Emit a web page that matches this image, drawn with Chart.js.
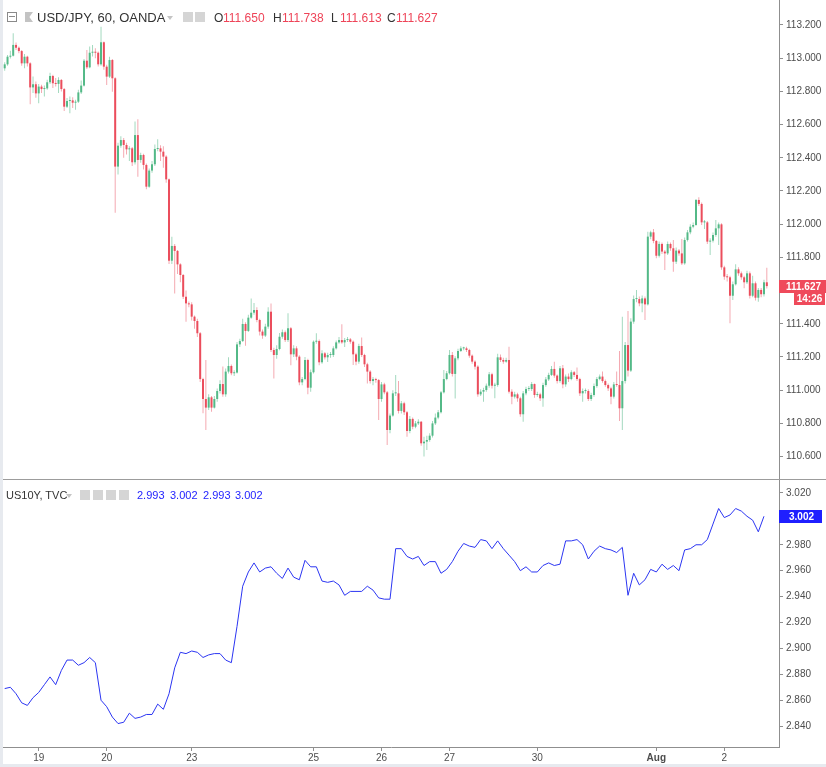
<!DOCTYPE html>
<html>
<head>
<meta charset="utf-8">
<title>USD/JPY vs US10Y</title>
<script src="https://cdn.jsdelivr.net/npm/chart.js@4.4.1/dist/chart.umd.min.js"></script>
<style>
  html, body { margin: 0; padding: 0; background: #fff; }
  #wrap { position: relative; width: 826px; height: 767px; overflow: hidden; background: #fff;
          font-family: "Liberation Sans", Arial, sans-serif; }
  canvas { position: absolute; left: 3px; }
  #priceChart { top: 0; }
  #yieldChart { top: 480px; }
  .strip { position: absolute; background: #e7eaef; }
  .sep { position: absolute; left: 0; top: 479px; width: 826px; height: 1px; background: #9c9c9c; }
  .t { position: absolute; white-space: nowrap; line-height: 1; }
  .ico { position: absolute; background: #d5d5d5; }
  .tri { position: absolute; width: 0; height: 0; border-left: 3px solid transparent;
         border-right: 3px solid transparent; border-top: 4px solid #c4c4c4; }
</style>
</head>
<body>
<div id="wrap">
  <canvas id="priceChart" width="823" height="479" style="width:823px;height:479px"></canvas>
  <canvas id="yieldChart" width="823" height="287" style="width:823px;height:287px"></canvas>
  <div class="sep"></div>
  <div class="strip" style="left:0;top:0;width:3px;height:767px"></div>
  <div class="strip" style="left:0;top:764px;width:826px;height:3px"></div>

  <!-- legenda do painel de cima -->
  <div class="ico" style="left:7px;top:12px;width:8px;height:8px;background:#fff;border:1px solid #8a8a8a"></div>
  <div class="ico" style="left:9px;top:16px;width:6px;height:1px;background:#8a8a8a"></div>
  <div class="ico" style="left:25px;top:12px;width:8px;height:10px;background:#c3c3c3;clip-path:polygon(0 0,100% 0,55% 50%,100% 100%,0 100%)"></div>
  <div class="t" id="title1" style="left:37px;top:11px;font-size:13px;color:#333">USD/JPY, 60, OANDA</div>
  <div class="tri" style="left:167px;top:16px"></div>
  <div class="ico" style="left:183px;top:12px;width:10px;height:10px"></div>
  <div class="ico" style="left:195px;top:12px;width:10px;height:10px"></div>
  <div id="ohlc1"></div>

  <!-- legenda do painel de baixo -->
  <div class="t" style="left:6px;top:490px;font-size:11px;color:#333">US10Y, TVC</div>
  <div class="tri" style="left:66px;top:494px"></div>
  <div class="ico" style="left:80px;top:490px;width:10px;height:10px"></div>
  <div class="ico" style="left:93px;top:490px;width:10px;height:10px"></div>
  <div class="ico" style="left:106px;top:490px;width:10px;height:10px"></div>
  <div class="ico" style="left:119px;top:490px;width:10px;height:10px"></div>
  <div id="ohlc2"></div>
</div>

<script>
// Velas horárias USD/JPY (abertura = fecho da vela anterior)
const firstOpen = 112.939;
const closes = [
  112.963, 113.009, 113.015, 113.080, 113.063, 113.043, 112.969, 113.009, 112.969, 112.824,
  112.843, 112.788, 112.829, 112.814, 112.818, 112.855, 112.893, 112.849, 112.845, 112.869,
  112.814, 112.708, 112.742, 112.746, 112.732, 112.738, 112.794, 112.835, 112.985, 112.945,
  113.033, 113.035, 113.033, 112.963, 113.096, 112.949, 112.889, 112.989, 112.879, 112.347,
  112.473, 112.507, 112.477, 112.451, 112.457, 112.373, 112.537, 112.387, 112.417, 112.357,
  112.226, 112.323, 112.361, 112.453, 112.457, 112.437, 112.407, 112.270, 111.780, 111.869,
  111.839, 111.758, 111.694, 111.563, 111.523, 111.517, 111.443, 111.417, 111.343, 111.067,
  110.947, 110.895, 110.957, 110.895, 110.947, 110.995, 111.037, 110.975, 111.112, 111.146,
  111.102, 111.106, 111.276, 111.296, 111.399, 111.357, 111.437, 111.467, 111.483, 111.423,
  111.353, 111.329, 111.383, 111.473, 111.242, 111.212, 111.248, 111.322, 111.349, 111.302,
  111.373, 111.216, 111.252, 111.202, 111.047, 111.067, 111.182, 111.015, 111.108, 111.292,
  111.296, 111.168, 111.222, 111.198, 111.212, 111.212, 111.252, 111.288, 111.302, 111.288,
  111.302, 111.306, 111.292, 111.216, 111.172, 111.266, 111.212, 111.156, 111.112, 111.055,
  111.067, 111.061, 110.947, 111.035, 110.987, 110.760, 110.847, 110.981, 110.981, 110.875,
  110.921, 110.867, 110.754, 110.827, 110.780, 110.800, 110.810, 110.680, 110.690, 110.700,
  110.726, 110.800, 110.835, 110.867, 110.987, 111.067, 111.102, 111.212, 111.098, 111.192,
  111.236, 111.252, 111.252, 111.242, 111.208, 111.172, 111.142, 110.975, 110.991, 111.001,
  111.027, 111.096, 111.027, 111.031, 111.198, 111.182, 111.172, 111.182, 110.991, 110.961,
  110.975, 110.951, 110.855, 110.981, 111.007, 111.007, 111.037, 110.971, 110.975, 110.951,
  111.031, 111.065, 111.092, 111.128, 111.088, 111.055, 111.132, 111.035, 111.082, 111.067,
  111.108, 111.092, 111.067, 110.981, 110.995, 110.995, 110.947, 110.971, 111.025, 111.067,
  111.082, 111.055, 111.031, 111.011, 110.961, 111.035, 111.031, 110.891, 111.055, 111.272,
  111.118, 111.413, 111.549, 111.549, 111.523, 111.553, 111.517, 111.925, 111.951, 111.899,
  111.810, 111.881, 111.835, 111.824, 111.881, 111.855, 111.774, 111.841, 111.824, 111.764,
  111.905, 111.951, 111.985, 111.995, 112.146, 112.122, 112.011, 112.011, 111.895, 111.901,
  111.935, 111.975, 111.999, 111.740, 111.684, 111.680, 111.569, 111.638, 111.728, 111.704,
  111.680, 111.650, 111.704, 111.569, 111.644, 111.557, 111.604, 111.578, 111.650, 111.627
];
const highs = [
  112.975, 113.020, 113.045, 113.150, 113.095, 113.070, 113.050, 113.025, 113.015, 112.975,
  112.889, 112.860, 112.845, 112.840, 112.835, 112.870, 112.913, 112.900, 112.880, 112.885,
  112.875, 112.820, 112.760, 112.770, 112.765, 112.750, 112.810, 112.865, 112.995, 113.050,
  113.070, 113.080, 113.060, 113.040, 113.190, 113.100, 112.960, 113.009, 112.995, 112.885,
  112.490, 112.530, 112.520, 112.490, 112.470, 112.465, 112.618, 112.632, 112.430, 112.425,
  112.365, 112.335, 112.380, 112.480, 112.511, 112.475, 112.470, 112.415, 112.275, 111.925,
  111.880, 111.845, 111.765, 111.700, 111.600, 111.535, 111.530, 111.450, 111.430, 111.350,
  111.075, 111.182, 110.975, 110.965, 110.965, 111.010, 111.060, 111.142, 111.130, 111.198,
  111.155, 111.120, 111.290, 111.310, 111.430, 111.410, 111.455, 111.553, 111.525, 111.500,
  111.430, 111.365, 111.400, 111.500, 111.523, 111.255, 111.270, 111.345, 111.365, 111.360,
  111.463, 111.380, 111.270, 111.265, 111.210, 111.080, 111.200, 111.190, 111.125, 111.300,
  111.343, 111.305, 111.240, 111.230, 111.225, 111.230, 111.265, 111.300, 111.320, 111.397,
  111.315, 111.320, 111.315, 111.300, 111.225, 111.280, 111.318, 111.220, 111.165, 111.120,
  111.080, 111.075, 111.067, 111.050, 111.045, 110.995, 110.860, 111.000, 111.092, 111.055,
  110.935, 110.930, 110.875, 110.845, 110.835, 110.815, 110.825, 110.815, 110.720, 110.725,
  110.740, 110.815, 110.860, 110.880, 110.995, 111.122, 111.115, 111.242, 111.230, 111.205,
  111.250, 111.265, 111.262, 111.262, 111.250, 111.215, 111.180, 111.150, 111.005, 111.015,
  111.040, 111.110, 111.105, 111.045, 111.220, 111.215, 111.195, 111.195, 111.262, 111.005,
  110.990, 110.985, 110.960, 110.995, 111.020, 111.025, 111.050, 111.041, 110.990, 110.985,
  111.045, 111.080, 111.105, 111.145, 111.172, 111.095, 111.145, 111.152, 111.095, 111.100,
  111.120, 111.115, 111.136, 111.075, 111.010, 111.010, 111.005, 110.985, 111.040, 111.080,
  111.095, 111.112, 111.065, 111.040, 111.020, 111.050, 111.112, 111.236, 111.443, 111.290,
  111.477, 111.433, 111.570, 111.604, 111.565, 111.570, 111.565, 111.955, 111.960, 111.971,
  111.905, 111.895, 111.890, 111.845, 111.895, 111.890, 111.905, 111.860, 111.850, 111.911,
  111.920, 111.965, 112.000, 112.010, 112.152, 112.162, 112.130, 112.025, 112.020, 111.915,
  111.950, 112.025, 112.010, 112.005, 111.750, 111.700, 111.690, 111.655, 111.758, 111.740,
  111.715, 111.690, 111.720, 111.715, 111.690, 111.655, 111.615, 111.615, 111.665, 111.738
];
const lows = [
  112.925, 112.955, 112.998, 113.010, 113.050, 113.030, 112.955, 112.940, 112.950, 112.722,
  112.790, 112.762, 112.728, 112.790, 112.770, 112.810, 112.845, 112.820, 112.830, 112.790,
  112.800, 112.682, 112.700, 112.668, 112.700, 112.690, 112.730, 112.785, 112.830, 112.935,
  112.940, 113.010, 113.000, 112.950, 112.955, 112.930, 112.839, 112.880, 112.798, 112.069,
  112.300, 112.460, 112.400, 112.420, 112.380, 112.350, 112.360, 112.286, 112.370, 112.330,
  112.210, 112.220, 112.310, 112.350, 112.440, 112.380, 112.340, 112.250, 111.760, 111.760,
  111.583, 111.700, 111.650, 111.550, 111.413, 111.500, 111.420, 111.370, 111.320, 111.050,
  110.861, 110.760, 110.880, 110.870, 110.890, 110.930, 110.980, 110.960, 110.960, 111.100,
  111.090, 111.085, 111.100, 111.260, 111.290, 111.268, 111.350, 111.430, 111.455, 111.410,
  111.330, 111.310, 111.320, 111.370, 111.230, 111.071, 111.190, 111.240, 111.310, 111.290,
  111.290, 111.150, 111.200, 111.180, 111.030, 111.030, 111.060, 110.975, 110.990, 111.100,
  111.280, 111.150, 111.160, 111.185, 111.170, 111.195, 111.200, 111.245, 111.280, 111.280,
  111.260, 111.290, 111.280, 111.152, 111.150, 111.160, 111.200, 111.140, 111.041, 111.040,
  111.030, 111.045, 110.820, 110.930, 110.975, 110.670, 110.740, 110.840, 110.965, 110.860,
  110.860, 110.850, 110.720, 110.740, 110.765, 110.770, 110.790, 110.665, 110.600, 110.640,
  110.690, 110.715, 110.790, 110.825, 110.860, 110.980, 111.060, 111.095, 111.082, 110.950,
  111.180, 111.230, 111.240, 111.230, 111.195, 111.160, 111.125, 110.960, 110.965, 110.931,
  110.990, 111.015, 111.010, 110.951, 111.020, 111.170, 111.160, 111.165, 110.980, 110.915,
  110.950, 110.930, 110.840, 110.810, 110.970, 110.995, 110.995, 110.955, 110.960, 110.935,
  110.901, 111.020, 111.055, 111.085, 111.075, 111.040, 111.045, 111.011, 111.020, 111.050,
  111.060, 111.080, 111.055, 110.965, 110.931, 110.980, 110.935, 110.935, 110.960, 111.015,
  111.060, 111.045, 111.020, 110.995, 110.915, 110.950, 111.020, 110.814, 110.760, 111.040,
  111.082, 111.110, 111.400, 111.530, 111.505, 111.470, 111.423, 111.510, 111.910, 111.885,
  111.795, 111.800, 111.820, 111.724, 111.815, 111.840, 111.714, 111.760, 111.810, 111.754,
  111.755, 111.895, 111.940, 111.975, 111.990, 112.110, 111.995, 111.971, 111.880, 111.814,
  111.890, 111.925, 111.875, 111.725, 111.665, 111.655, 111.403, 111.543, 111.630, 111.690,
  111.665, 111.614, 111.640, 111.553, 111.560, 111.540, 111.533, 111.560, 111.565, 111.613
];

// US10Y, um valor a cada 2 horas
const yieldStep = 2;
const yieldVals = [
  2.869, 2.870, 2.865, 2.858, 2.856, 2.862, 2.866, 2.872, 2.878, 2.872,
  2.883, 2.891, 2.891, 2.887, 2.889, 2.893, 2.889, 2.860, 2.855, 2.847,
  2.842, 2.843, 2.850, 2.846, 2.847, 2.849, 2.849, 2.857, 2.853, 2.865,
  2.885, 2.897, 2.896, 2.898, 2.897, 2.893, 2.895, 2.896, 2.896, 2.891,
  2.889, 2.917, 2.948, 2.959, 2.966, 2.959, 2.962, 2.963, 2.958, 2.954,
  2.962, 2.955, 2.953, 2.968, 2.963, 2.963, 2.952, 2.951, 2.952, 2.949,
  2.941, 2.944, 2.944, 2.944, 2.948, 2.945, 2.939, 2.938, 2.938, 2.977,
  2.977, 2.971, 2.969, 2.971, 2.964, 2.967, 2.967, 2.958, 2.961, 2.967,
  2.975, 2.981, 2.979, 2.978, 2.984, 2.983, 2.977, 2.983, 2.977, 2.972,
  2.967, 2.960, 2.963, 2.959, 2.959, 2.964, 2.966, 2.964, 2.965, 2.983,
  2.983, 2.984, 2.980, 2.969, 2.975, 2.979, 2.977, 2.976, 2.974, 2.978,
  2.941, 2.958, 2.949, 2.953, 2.961, 2.959, 2.965, 2.961, 2.964, 2.960,
  2.976, 2.977, 2.980, 2.980, 2.984, 2.996, 3.008, 3.001, 3.003, 3.008,
  3.006, 3.002, 2.999, 2.990, 3.002
];
const yieldLegend = [2.993, 3.002, 2.993, 3.002];

// Eixos
const priceTicks = [110.6, 110.8, 111.0, 111.2, 111.4, 111.6, 111.8, 112.0, 112.2, 112.4, 112.6, 112.8, 113.0, 113.2];
const yieldTicks = [2.84, 2.86, 2.88, 2.90, 2.92, 2.94, 2.96, 2.98, 3.00, 3.02];
const dayIdx = [12, 36, 66, 109, 133, 157, 188, 230, 254];
const dayLabels = ['19', '20', '23', '25', '26', '27', '30', 'Aug', '2'];

const upBody = '#53b987', downBody = '#eb4d5c';
const upWick = '#a3d9bf', downWick = '#f4a9b1';
const lineBlue = '#2b35f2';
const axisGray = '#8f8f8f', textGray = '#4d4d4d';
const X_MIN = -0.6, X_MAX = 273.3;

Chart.defaults.font.family = '"Liberation Sans", Arial, sans-serif';
Chart.defaults.animation = false;

const hourIdx = closes.map((c, i) => i);
const opens = closes.map((c, i) => (i === 0 ? firstOpen : closes[i - 1]));
const isUp = closes.map((c, i) => c >= opens[i]);
const lastIdx = closes.length - 1;

// Legendas em HTML
function putText(parent, left, top, text, size, color) {
    const d = document.createElement('div');
    d.className = 't';
    d.style.left = left + 'px';
    d.style.top = top + 'px';
    d.style.fontSize = size + 'px';
    d.style.color = color;
    d.textContent = text;
    parent.appendChild(d);
}
const wrap = document.getElementById('wrap');
const ohlcTop = [['O', opens[lastIdx], 214], ['H', highs[lastIdx], 273], ['L', lows[lastIdx], 331], ['C', closes[lastIdx], 387]];
ohlcTop.forEach(([k, v, x]) => {
    putText(wrap, x, 12, k, 12, '#333');
    putText(wrap, x + 9, 12, v.toFixed(3), 12, '#ee4458');
});
[137, 170, 203, 235].forEach((x, i) => putText(wrap, x, 490, yieldLegend[i].toFixed(3), 11, '#1d1dff'));

function fixY(scale) {
    scale.width = 47;
    scale.paddingTop = 0;
    scale.paddingBottom = 0;
}

// Etiqueta do último valor no eixo da direita
const valueTag = {
    id: 'valueTag',
    afterDraw(chart, args, o) {
        const {ctx, chartArea} = chart;
        const y = Math.round(chart.scales.y.getPixelForValue(o.value));
        ctx.save();
        ctx.font = 'bold 10px "Liberation Sans", Arial';
        ctx.textAlign = 'center';
        ctx.textBaseline = 'middle';
        ctx.fillStyle = o.color;
        ctx.fillRect(chartArea.right, y - 6, o.w, 13);
        ctx.fillStyle = '#fff';
        ctx.fillText(o.text, chartArea.right + o.w / 2 + 1, y + 1);
        if (o.sub) {
            ctx.fillStyle = o.color;
            ctx.fillRect(chartArea.right + 15, y + 7, 31, 12);
            ctx.fillStyle = '#fff';
            ctx.fillText(o.sub, chartArea.right + 30.5, y + 13.5);
        }
        ctx.restore();
    }
};

const yTickOpts = { color: textGray, padding: 3, font: { size: 10 } };

new Chart(document.getElementById('priceChart'), {
    type: 'bar',
    data: {
        datasets: [
            {
                data: hourIdx.map(i => ({ x: i, y: [Math.min(opens[i], closes[i]), Math.max(opens[i], closes[i])] })),
                backgroundColor: isUp.map(u => (u ? upBody : downBody)),
                barThickness: 2, minBarLength: 1, grouped: false, inflateAmount: 0, order: 0
            },
            {
                data: hourIdx.map(i => ({ x: i, y: [lows[i], highs[i]] })),
                backgroundColor: isUp.map(u => (u ? upWick : downWick)),
                barThickness: 1, grouped: false, inflateAmount: 0, order: 1
            }
        ]
    },
    options: {
        responsive: false,
        layout: { padding: 0 },
        plugins: {
            legend: { display: false },
            tooltip: { enabled: false },
            valueTag: { value: closes[lastIdx], text: closes[lastIdx].toFixed(3), color: '#ef4a5b', w: 47, sub: '14:26' }
        },
        scales: {
            x: { type: 'linear', min: X_MIN, max: X_MAX, offset: false, display: false },
            y: {
                position: 'right', min: 110.465, max: 113.3506,
                afterFit: fixY,
                afterBuildTicks: s => { s.ticks = priceTicks.map(v => ({ value: v })); },
                ticks: Object.assign({ callback: v => v.toFixed(3) }, yTickOpts),
                grid: { drawOnChartArea: false, tickLength: 4, color: axisGray },
                border: { color: axisGray }
            }
        }
    },
    plugins: [valueTag]
});

new Chart(document.getElementById('yieldChart'), {
    type: 'line',
    data: {
        datasets: [{
            data: yieldVals.map((v, i) => ({ x: i * yieldStep, y: v })),
            borderColor: lineBlue, borderWidth: 1, pointRadius: 0, tension: 0
        }]
    },
    options: {
        responsive: false,
        layout: { padding: 0 },
        plugins: {
            legend: { display: false },
            tooltip: { enabled: false },
            valueTag: { value: yieldVals[yieldVals.length - 1], text: yieldVals[yieldVals.length - 1].toFixed(3), color: '#1f1fff', w: 43 }
        },
        scales: {
            x: {
                type: 'linear', min: X_MIN, max: X_MAX, offset: false,
                afterFit: s => { s.height = 20; s.paddingLeft = 0; s.paddingRight = 0; },
                afterBuildTicks: s => { s.ticks = dayIdx.map(v => ({ value: v })); },
                ticks: {
                    autoSkip: false, maxRotation: 0, padding: 1, color: textGray,
                    font: c => ({ size: 10, weight: (c.tick && dayLabels[dayIdx.indexOf(c.tick.value)] === 'Aug') ? 'bold' : 'normal' }),
                    callback: v => dayLabels[dayIdx.indexOf(v)]
                },
                grid: { drawOnChartArea: false, tickLength: 4, color: axisGray },
                border: { color: axisGray }
            },
            y: {
                position: 'right', min: 2.8239, max: 3.030,
                afterFit: fixY,
                afterBuildTicks: s => { s.ticks = yieldTicks.map(v => ({ value: v })); },
                ticks: Object.assign({ callback: v => v.toFixed(3) }, yTickOpts),
                grid: { drawOnChartArea: false, tickLength: 4, color: axisGray },
                border: { color: axisGray }
            }
        }
    },
    plugins: [valueTag]
});
</script>
</body>
</html>
